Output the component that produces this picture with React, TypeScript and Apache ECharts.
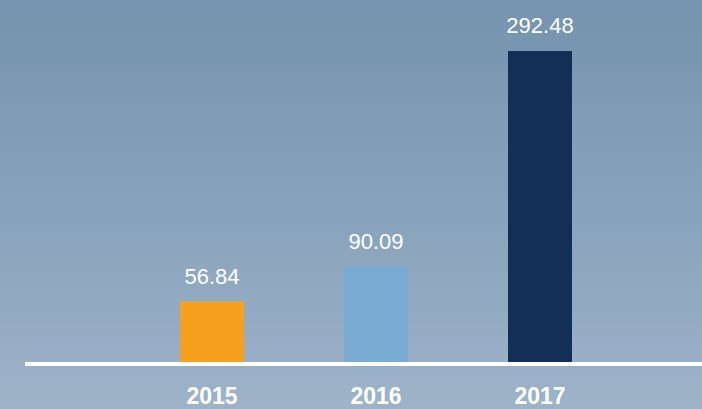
import React, { useEffect, useRef } from "react";
import * as echarts from "echarts";

const categories = ["2015", "2016", "2017"];
const values = [56.84, 90.09, 292.48];
const barColors = ["#F7A020", "#7AABD3", "#132F55"];

export default function App() {
  const ref = useRef<HTMLDivElement>(null);
  useEffect(() => {
    document.body.style.margin = "0";
    const chart = echarts.init(ref.current!, null, { renderer: "svg" });
    const font = "'Liberation Sans', Arial, Helvetica, sans-serif";
    chart.setOption({
      animation: false,
      backgroundColor: new echarts.graphic.LinearGradient(0, 0, 0, 1, [
        { offset: 0, color: "#7593AE" },
        { offset: 0.5, color: "#88A2BB" },
        { offset: 1, color: "#9DB3C8" },
      ]),
      grid: { left: 130, right: 80, top: 43, bottom: 47 },
      xAxis: {
        type: "category",
        data: categories,
        axisLine: { show: false },
        axisTick: { show: false },
        axisLabel: {
          color: "#FFFFFF",
          fontWeight: "bold",
          fontSize: 23,
          fontFamily: font,
          margin: 22,
        },
      },
      yAxis: {
        type: "value",
        min: 0,
        max: 300,
        show: false,
        splitLine: { show: false },
      },
      series: [
        {
          type: "bar",
          barWidth: 64,
          data: values.map((v, i) => ({ value: v, itemStyle: { color: barColors[i] } })),
          label: {
            show: true,
            position: "top",
            distance: 14,
            color: "#FFFFFF",
            fontSize: 22,
            fontFamily: font,
            formatter: (p: any) => p.value.toFixed(2),
          },
        },
      ],
      graphic: [
        {
          type: "line",
          shape: { x1: 25, y1: 364, x2: 702, y2: 364 },
          style: { stroke: "#FFFFFF", lineWidth: 4 },
          z: 100,
        },
      ],
    });
    return () => chart.dispose();
  }, []);
  return <div ref={ref} style={{ width: 702, height: 409 }} />;
}
